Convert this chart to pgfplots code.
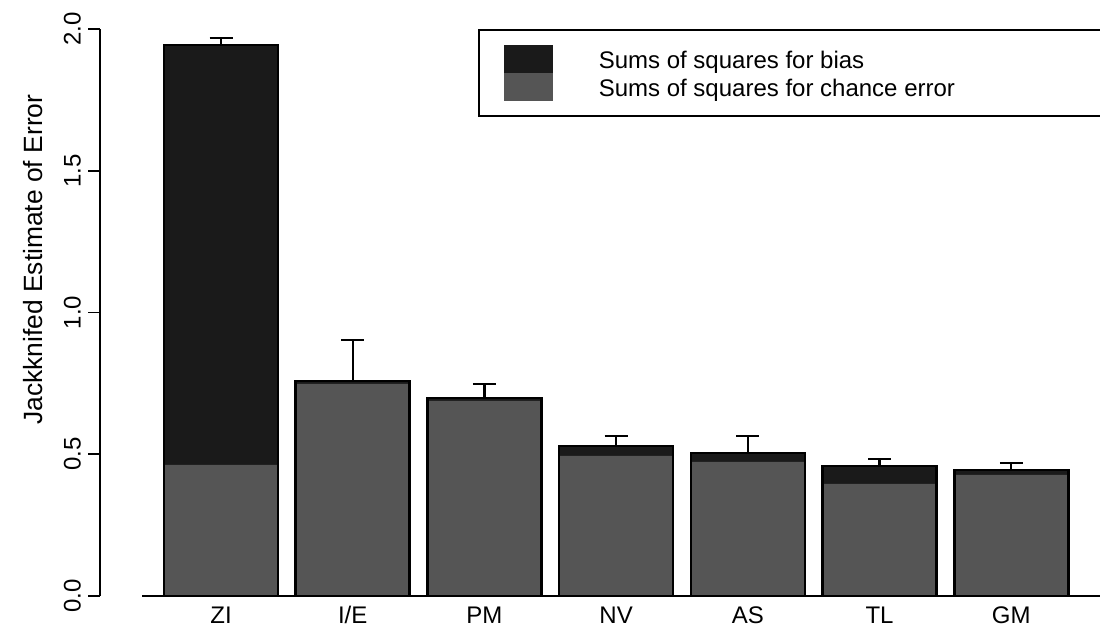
\documentclass[border=0pt]{standalone}
\usepackage{pgfplots}
\usepackage{pgfplotstable}
\pgfplotsset{compat=1.18}
\usepackage{fontspec}
\setmainfont{Liberation Sans}
\definecolor{bias}{HTML}{1A1A1A}
\definecolor{chance}{HTML}{555555}
\pgfplotstableread{
x total chance err
0 1.943 0.462 0.025
1 0.758 0.748 0.145
2 0.698 0.688 0.050
3 0.529 0.494 0.035
4 0.504 0.473 0.060
5 0.459 0.395 0.024
6 0.444 0.427 0.025
}\data
\begin{document}
\begin{tikzpicture}
\begin{axis}[
  scale only axis, width=500pt, height=283.5pt,
  xmin=-0.919, xmax=6.674, ymin=0, ymax=2,
  axis lines*=left,
  x axis line style={draw=none},
  y axis line style={line width=0.8pt, black},
  clip=false,
  font=\fontsize{12}{14}\selectfont,
  tick label style={font=\fontsize{12}{14}\selectfont},
  /pgf/number format/assume math mode=true,
  xtick={0,...,6}, xticklabels={ZI,I/E,PM,NV,AS,TL,GM},
  xtick style={draw=none},
  xticklabel style={yshift=5pt, text height=9pt, text depth=2.5pt},
  ytick={0,0.5,1,1.5,2},
  yticklabel style={rotate=90, anchor=south, /pgf/number format/.cd, fixed, fixed zerofill, precision=1},
  tick align=outside, major tick length=6pt,
  ytick style={line width=0.8pt, black},
  ylabel={Jackknifed Estimate of Error},
  every axis y label/.style={at={(rel axis cs:-0.067,0.593)}, rotate=90, anchor=center, font=\fontsize{13.2}{15}\selectfont},
  legend style={at={(rel axis cs:0.378,1)}, anchor=north west, draw=black, line width=0.8pt,
    inner xsep=12.5pt, inner ysep=7.5pt, row sep=0pt, column sep=0pt,
    nodes={inner sep=0pt, text height=9.5pt, text depth=4.5pt, anchor=west}},
  legend cell align=left,
]
\addplot[ybar, bar width=57pt, bar shift=0pt, fill=bias, draw=none,
  legend image code/.code={\path[fill=bias] (0pt,-7pt) rectangle (24.5pt,7pt);}]
  table[x=x, y=total] {\data};
\addlegendentry{\hspace*{23pt}\raisebox{-2.5pt}{\makebox[238.5pt][l]{Sums of squares for bias}}}
\addplot[ybar, bar width=57pt, bar shift=0pt, fill=chance, draw=none,
  legend image code/.code={\path[fill=chance] (0pt,-7pt) rectangle (24.5pt,7pt);}]
  table[x=x, y=chance] {\data};
\addlegendentry{\hspace*{23pt}\raisebox{-2.5pt}{\makebox[238.5pt][l]{Sums of squares for chance error}}}
\addplot[ybar, bar width=57pt, bar shift=0pt, fill=none, draw=black, line width=1.3pt, forget plot]
  table[x=x, y=total] {\data};
\addplot[forget plot, draw=none, mark=none,
  error bars/.cd, y dir=plus, y explicit,
  error bar style={draw=black, line width=1.2pt},
  error mark options={draw=black, line width=1.2pt, mark size=5.75pt, rotate=90}]
  table[x=x, y=total, y error=err] {\data};
\addplot[black, line width=1pt, forget plot] coordinates {(-0.6,0) (6.674,0)};
\coordinate (bbsw) at (rel axis cs:-0.1,-0.0564);
\coordinate (bbne) at (rel axis cs:1,1.0511);
\end{axis}
\pgfresetboundingbox
\path (bbsw) rectangle (bbne);
\end{tikzpicture}
\end{document}
